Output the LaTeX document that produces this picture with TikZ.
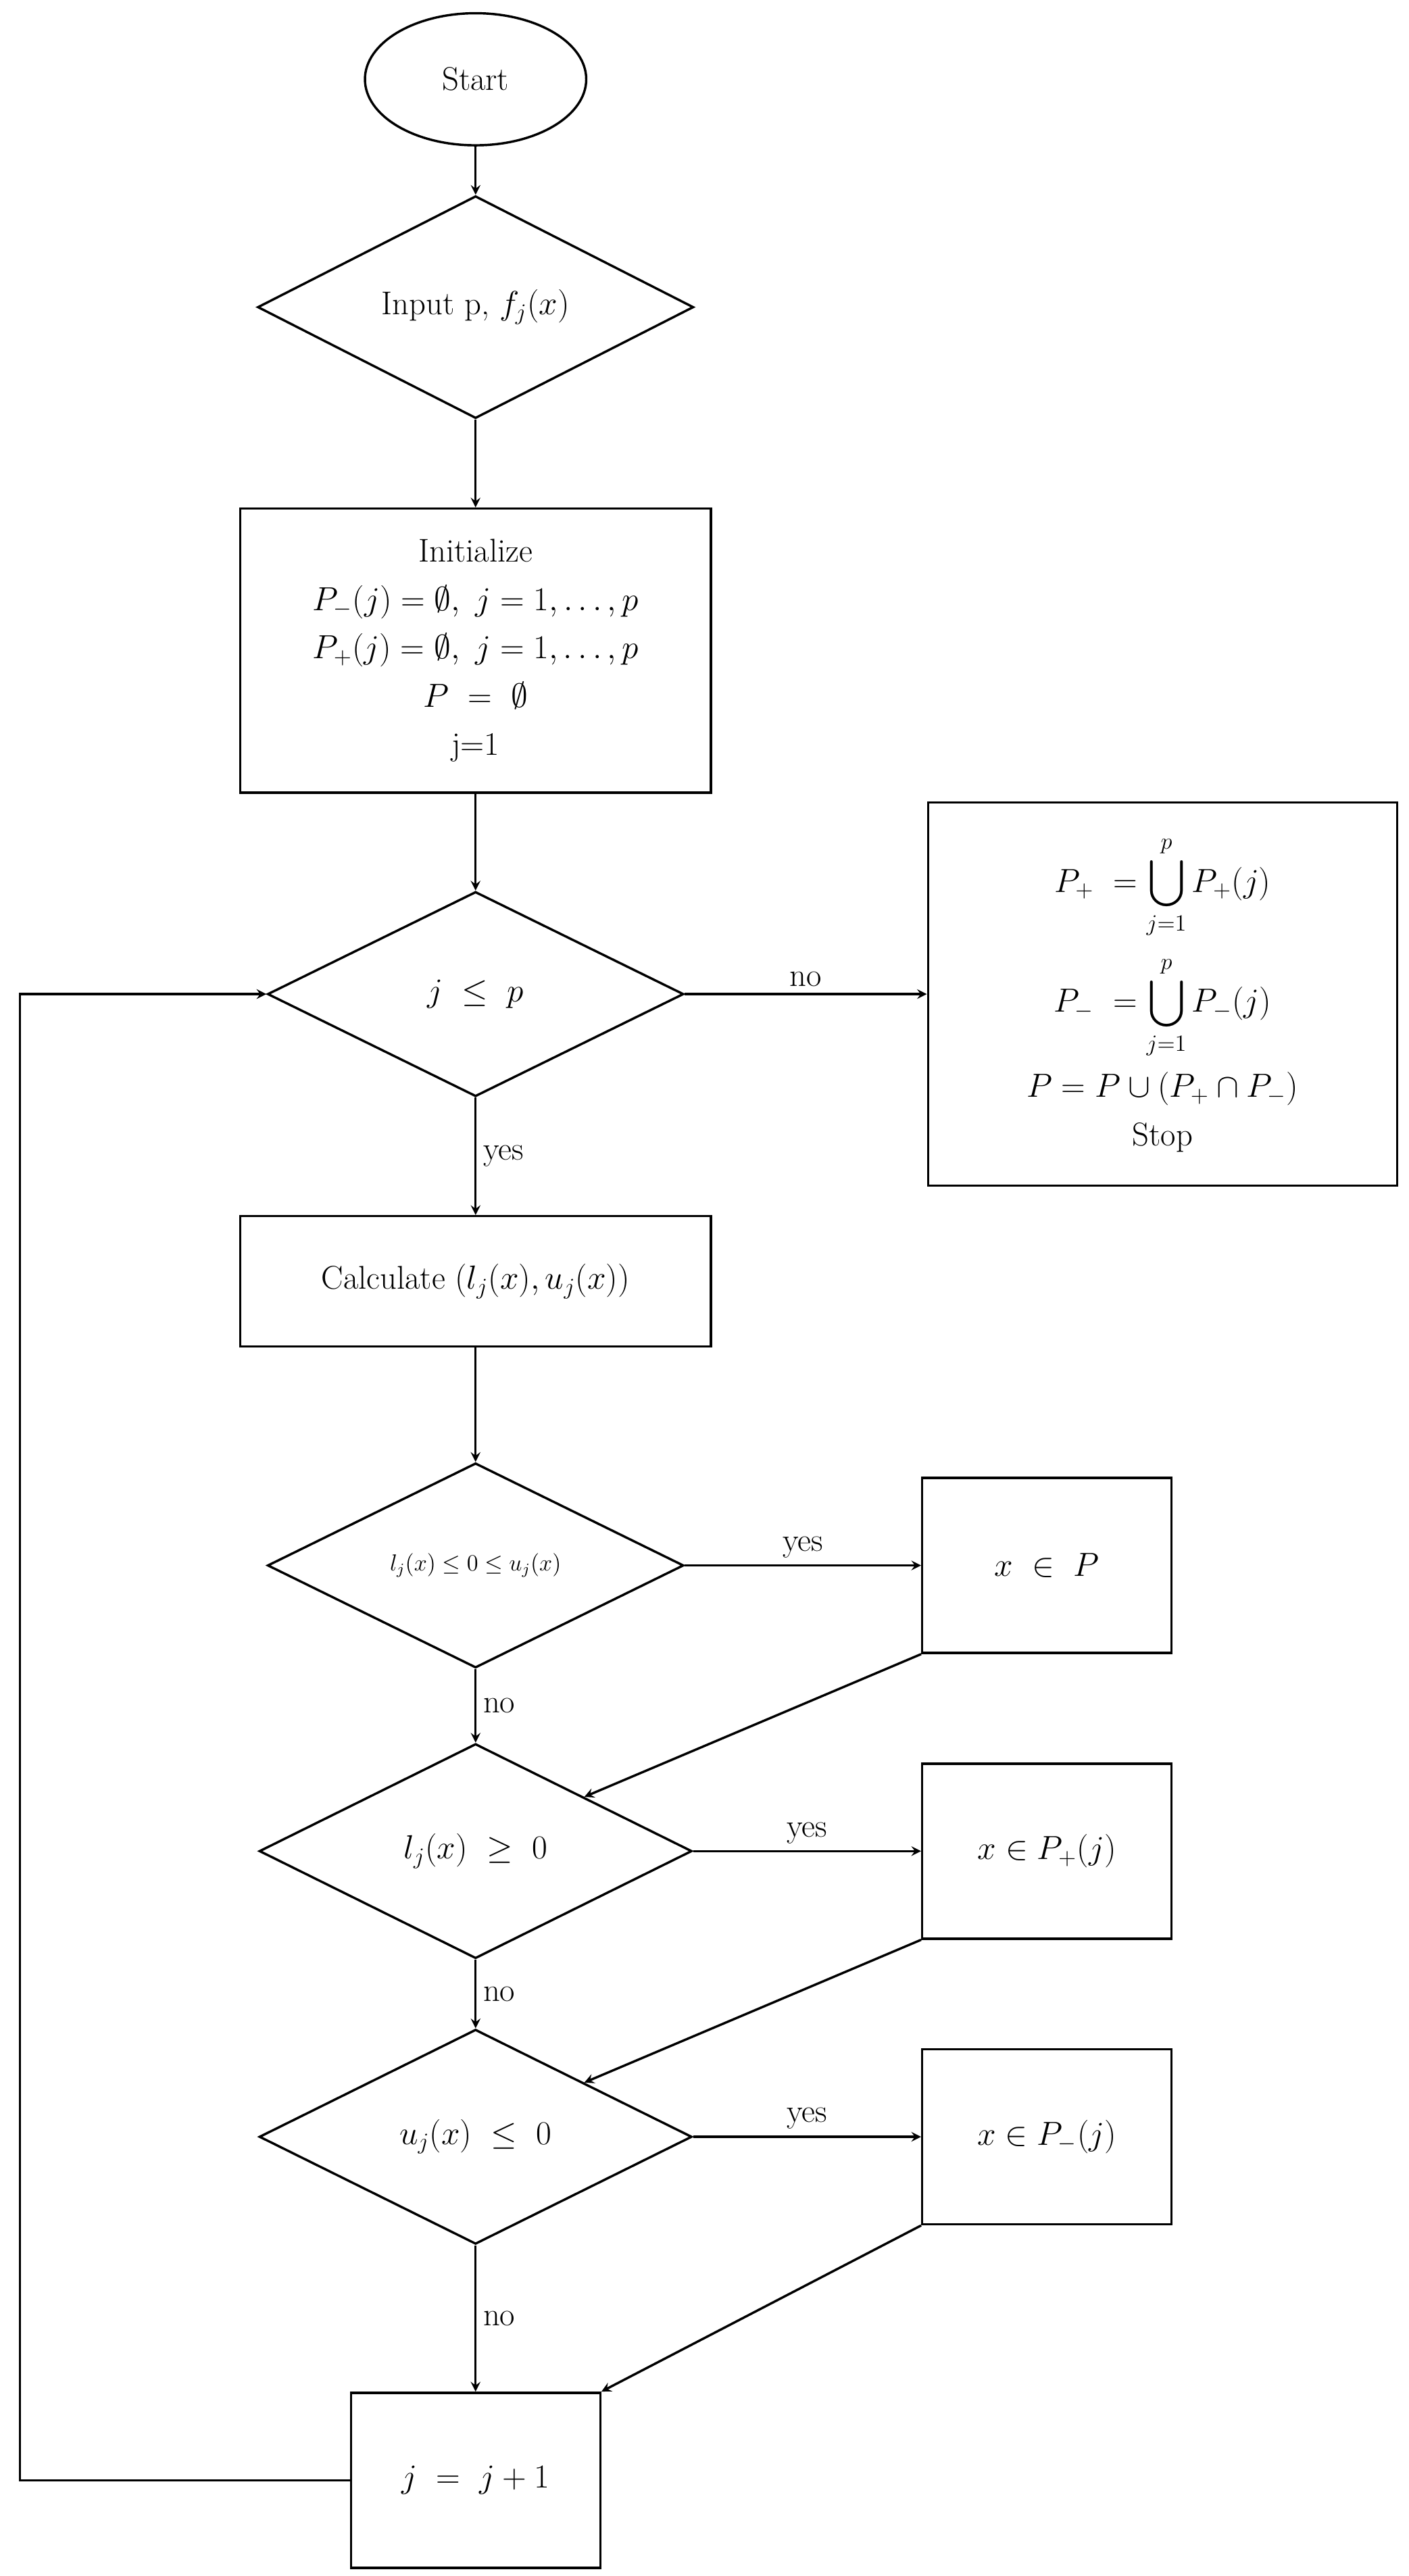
\documentclass[tikz,border=0pt]{standalone}
\usepackage{amsmath,amssymb}
\usetikzlibrary{positioning,shapes.geometric}

\begin{document}
\begin{tikzpicture} [
                x=0.03cm, y=-0.03cm,
                every node/.style={font=\fontsize{17}{25}\selectfont},
                line/.style={line width=1.2pt},
                flow/.style={line, ->, >=stealth},
                stepnode/.style={rectangle, draw, line width=1.2pt, align=center, inner sep=2pt},
                testnode/.style={diamond, draw, line width=1.2pt, inner sep=0pt, align=center},
                lbl/.style={font=\fontsize{17}{20}\selectfont}
            ]

                \useasboundingbox (0,0) rectangle (853,1560);

                \node[ellipse, draw, line width=1.2pt, minimum width=4.02cm, minimum height=2.4cm] (start) at (288,48) {Start};
                \node[testnode, minimum width=7.92cm, minimum height=3.84cm]     (input)     at (288,186)    {Input p, $f_j(x)$};
                \node[stepnode, minimum width=8.55cm, minimum height=5.16cm]     (init)      at (288,394)    {Initialize\\ $P_-(j)=\emptyset,\ j=1,\dots,p$\\ $P_+(j)=\emptyset,\ j=1,\dots,p$\\ $P\ =\ \emptyset$\\ j=1};
                \node[testnode, minimum width=7.56cm, minimum height=3.72cm]     (jtest)     at (288,602)    {$j\ \le\ p$};
                \node[stepnode, minimum width=8.52cm, minimum height=6.96cm, inner sep=0pt] (stop) at (704,602)
                    {$\displaystyle P_+\ =\bigcup_{j=1}^{p}P_+(j)$\\[8pt] $\displaystyle P_-\ =\bigcup_{j=1}^{p}P_-(j)$\\[6pt] $P=P\cup(P_+\cap P_-)$\\ Stop};
                \node[stepnode, minimum width=8.55cm, minimum height=2.37cm]     (calc)      at (288,776)    {Calculate $(l_j(x),u_j(x))$};

                \node[testnode, minimum width=7.56cm, minimum height=3.72cm, font=\fontsize{12}{14}\selectfont] (test0) at (288,948) {$l_j(x)\le0\le u_j(x)$};
                \node[testnode, minimum width=7.86cm, minimum height=3.9cm]      (testl)     at (288,1121)   {$l_j(x)\ \ge\ 0$};
                \node[testnode, minimum width=7.86cm, minimum height=3.9cm]      (testu)     at (288,1294)   {$u_j(x)\ \le\ 0$};

                \node[stepnode, minimum width=4.53cm, minimum height=3.18cm]     (inP)       at (634,948)    {$x\ \in\ P$};
                \node[stepnode, minimum width=4.53cm, minimum height=3.18cm]     (inPplus)   at (634,1121)   {$x\in P_+(j)$};
                \node[stepnode, minimum width=4.53cm, minimum height=3.18cm]     (inPminus)  at (634,1294)   {$x\in P_-(j)$};
                \node[stepnode, minimum width=4.53cm, minimum height=3.18cm]     (incr)      at (288,1502)   {$j\ =\ j+1$};

                \coordinate (loopbot) at (12,1502);
                \coordinate (looptop) at (12,602);

                % main column
                \draw[flow] (start) -- (input);
                \draw[flow] (input) -- (init);
                \draw[flow] (init) -- (jtest);
                \draw[flow] (jtest) -- node[lbl, right] {yes} (calc);
                \draw[flow] (calc) -- (test0);
                \draw[flow] (test0) -- node[lbl, right] {no} (testl);
                \draw[flow] (testl) -- node[lbl, right] {no} (testu);
                \draw[flow] (testu) -- node[lbl, right] {no} (incr);

                % branches
                \draw[flow] (jtest) -- node[lbl, above] {no} (stop);
                \draw[flow] (test0) -- node[lbl, above] {yes} (inP);
                \draw[flow] (testl) -- node[lbl, above] {yes} (inPplus);
                \draw[flow] (testu) -- node[lbl, above] {yes} (inPminus);
                \draw[flow] (inP.south west) -- (testl.north east);
                \draw[flow] (inPplus.south west) -- (testu.north east);
                \draw[flow] (inPminus.south west) -- (incr.north east);

                % loop back
                \draw[flow] (incr.west) -- (loopbot) -- (looptop) -- (jtest.west);

            \end{tikzpicture}
\end{document}
